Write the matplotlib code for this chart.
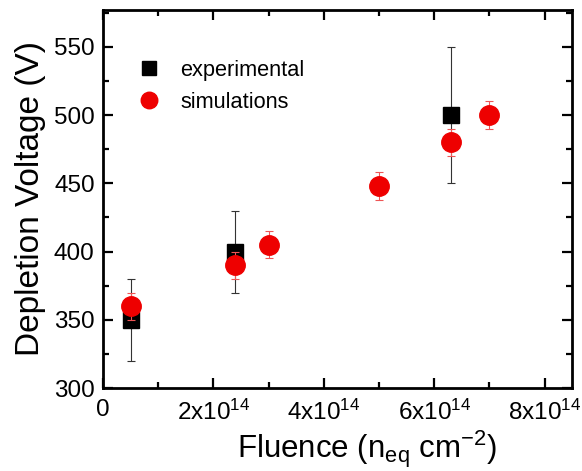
import matplotlib
matplotlib.use("Agg")
import matplotlib.pyplot as plt
from matplotlib.ticker import MultipleLocator, FuncFormatter

plt.rcParams['font.family'] = ['Liberation Sans', 'DejaVu Sans']
plt.rcParams['mathtext.fontset'] = 'custom'
plt.rcParams['mathtext.rm'] = 'Liberation Sans'
plt.rcParams['mathtext.it'] = 'Liberation Sans:italic'
plt.rcParams['mathtext.default'] = 'regular'

# Data
exp_fluence = [0.5e14, 2.4e14, 6.3e14]
exp_voltage = [350, 400, 500]
exp_err = [30, 30, 50]

sim_fluence = [0.5e14, 2.4e14, 3.0e14, 5.0e14, 6.3e14, 7.0e14]
sim_voltage = [360, 390, 405, 448, 480, 500]
sim_err = [10, 10, 10, 10, 10, 10]

fig = plt.figure(figsize=(5.82, 4.71), dpi=100)
ax = fig.add_axes([0.177, 0.176, 0.806, 0.803])

ax.errorbar(exp_fluence, exp_voltage, yerr=exp_err, fmt='s', color='black',
            ecolor='#333333', elinewidth=0.8, capsize=3, capthick=0.8,
            markersize=12, label='experimental', zorder=3)
ax.errorbar(sim_fluence, sim_voltage, yerr=sim_err, fmt='o', color='#ee0000',
            ecolor='#ee5555', elinewidth=0.8, capsize=3, capthick=0.8,
            markersize=14, label='simulations', zorder=4)

ax.set_xlim(0, 8.5e14)
ax.set_ylim(300, 577)
ax.xaxis.set_major_locator(MultipleLocator(2e14))
ax.xaxis.set_minor_locator(MultipleLocator(1e14))
ax.yaxis.set_major_locator(MultipleLocator(50))
ax.yaxis.set_minor_locator(MultipleLocator(25))

def xfmt(v, pos):
    if abs(v) < 1e10:
        return '0'
    return r'%dx10$^{14}$' % round(v / 1e14)
ax.xaxis.set_major_formatter(FuncFormatter(xfmt))

ax.tick_params(which='both', direction='in', top=True, right=True, width=1.6)
ax.tick_params(which='major', length=7, labelsize=17.5)
ax.tick_params(axis='x', which='major', pad=8)
ax.tick_params(axis='y', which='major', pad=6)
ax.tick_params(which='minor', length=4)
for s in ax.spines.values():
    s.set_linewidth(2)

ax.set_xlabel(r'Fluence (n$_{eq}$ cm$^{-2}$)', fontsize=22.5)
ax.xaxis.set_label_coords(0.563, -0.108, transform=ax.transAxes)
ax.xaxis.label.set_va('top')
ax.set_ylabel('Depletion Voltage (V)', fontsize=24, labelpad=6)

handles, labels = ax.get_legend_handles_labels()
handles = [h[0] for h in handles]
leg = ax.legend(handles, labels, loc='upper left', bbox_to_anchor=(0.02, 0.92),
                frameon=False, fontsize=15.7, handletextpad=0.6, labelspacing=0.5,
                handlelength=1.6, markerscale=0.85)

fig.savefig('out.png', dpi=100)
